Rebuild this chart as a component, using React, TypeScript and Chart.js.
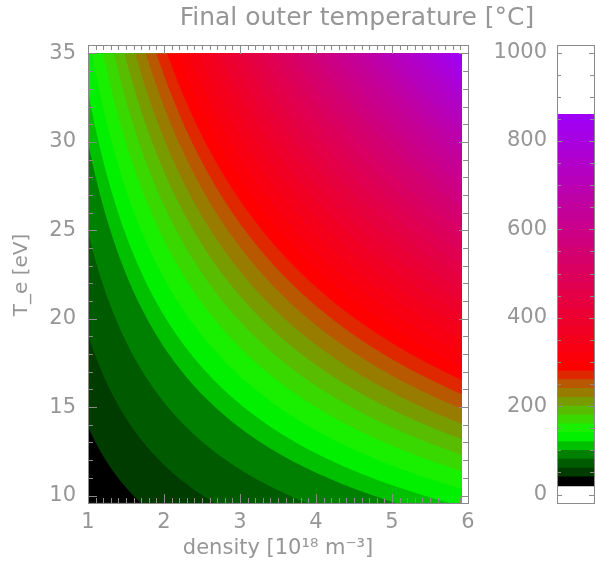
import React, { useEffect, useRef } from "react";
import { Chart, registerables } from "chart.js";

Chart.register(...registerables);

// ---------- text ----------
const TITLE = "Final outer temperature [°C]";
const X_TITLE = "density [10¹⁸ m⁻³]";
const Y_TITLE = "T_e [eV]";

// ---------- axes ----------
const X_TICKS = [1, 2, 3, 4, 5, 6];
const Y_TICKS = [10, 15, 20, 25, 30, 35];
const CB_TICKS = [0, 200, 400, 600, 800, 1000];

// ---------- data domain ----------
const DENSITY_RANGE = [1, 5.92];
const TE_RANGE = [9.58, 35];
// contours follow constant n * Te^1.42
const FLUX_EXPONENT = 1.42;
// final temperature vs flux parameter n*Te^1.42, read along the contour positions
const FLUX_KNOTS = [24, 42, 66, 96, 125, 147, 187, 318, 922];
const TEMP_KNOTS = [22, 40, 60, 80, 100, 125, 160, 280, 850];

// ---------- contour levels (°C) ----------
const LEVELS = [
  20, 40, 60, 80, 100, 120, 140, 160, 180, 200, 220, 240, 260, 280, 300, 320,
  340, 360, 380, 400, 420, 440, 460, 480, 500, 520, 540, 560, 580, 600, 620,
  640, 660, 680, 700, 720, 740, 760, 780, 800, 820, 840, 860,
];
// colour table anchors
const COLOR_LEVELS = [20, 40, 60, 80, 100, 120, 140, 160, 180, 200, 220, 240, 260, 280, 860];
const COLOR_HEX = [
  "#000000", "#003c00", "#005a00", "#008000", "#00c000", "#00f000", "#18f000",
  "#38d800", "#58bc00", "#789c00", "#987c00", "#b85800", "#e02800", "#ff0000",
  "#9c00ff",
];

const FONT = "'DejaVu Sans', sans-serif";
const TEXT_COLOR = "#969696";
const FRAME_COLOR = "#8a8a8a";

function hexToRgb(h: string) {
  return [parseInt(h.slice(1, 3), 16), parseInt(h.slice(3, 5), 16), parseInt(h.slice(5, 7), 16)];
}
function colorFor(level: number) {
  for (let i = 0; i < COLOR_LEVELS.length - 1; i++) {
    if (level <= COLOR_LEVELS[i + 1]) {
      const t = (level - COLOR_LEVELS[i]) / (COLOR_LEVELS[i + 1] - COLOR_LEVELS[i]);
      const a = hexToRgb(COLOR_HEX[i]);
      const b = hexToRgb(COLOR_HEX[i + 1]);
      const c = a.map((v, j) => Math.round(v + (b[j] - v) * t));
      return `rgb(${c[0]},${c[1]},${c[2]})`;
    }
  }
  return COLOR_HEX[COLOR_HEX.length - 1];
}
function fluxForTemp(T: number) {
  for (let i = 0; i < TEMP_KNOTS.length - 1; i++) {
    if (T <= TEMP_KNOTS[i + 1] || i === TEMP_KNOTS.length - 2) {
      const t = (T - TEMP_KNOTS[i]) / (TEMP_KNOTS[i + 1] - TEMP_KNOTS[i]);
      return FLUX_KNOTS[i] + t * (FLUX_KNOTS[i + 1] - FLUX_KNOTS[i]);
    }
  }
  return FLUX_KNOTS[FLUX_KNOTS.length - 1];
}

type TickSpec = { major: number[]; minorStep: number; majorLen: number; minorLen: number };

function drawFrameTicks(chart: any, xSpec: TickSpec | null, ySpec: TickSpec | null) {
  const { ctx, chartArea: a } = chart;
  ctx.save();
  ctx.strokeStyle = FRAME_COLOR;
  ctx.lineWidth = 1;
  ctx.strokeRect(Math.round(a.left) + 0.5, Math.round(a.top) + 0.5, Math.round(a.right - a.left), Math.round(a.bottom - a.top));
  ctx.beginPath();
  if (xSpec) {
    const s = chart.scales.x;
    const lo = s.min, hi = s.max;
    const n = Math.round((hi - lo) / xSpec.minorStep);
    for (let i = 0; i <= n; i++) {
      const v = lo + i * xSpec.minorStep;
      const isMajor = xSpec.major.some((m) => Math.abs(m - v) < 1e-6);
      const len = isMajor ? xSpec.majorLen : xSpec.minorLen;
      const px = Math.round(s.getPixelForValue(v)) + 0.5;
      ctx.moveTo(px, a.bottom);
      ctx.lineTo(px, a.bottom - len);
      ctx.moveTo(px, a.top);
      ctx.lineTo(px, a.top + len);
    }
  }
  if (ySpec) {
    const s = chart.scales.y;
    const start = Math.ceil(s.min / ySpec.minorStep) * ySpec.minorStep;
    for (let v = start; v <= s.max + 1e-9; v += ySpec.minorStep) {
      const isMajor = ySpec.major.some((m) => Math.abs(m - v) < 1e-6);
      const len = isMajor ? ySpec.majorLen : ySpec.minorLen;
      const py = Math.round(s.getPixelForValue(v)) + 0.5;
      ctx.moveTo(a.left, py);
      ctx.lineTo(a.left + len, py);
      ctx.moveTo(a.right, py);
      ctx.lineTo(a.right - len, py);
    }
  }
  ctx.stroke();
  ctx.restore();
}

const contourPlugin = {
  id: "contourFill",
  beforeDatasetsDraw(chart: any) {
    const { ctx } = chart;
    const xs = chart.scales.x;
    const ys = chart.scales.y;
    const left = xs.getPixelForValue(DENSITY_RANGE[0]);
    const right = xs.getPixelForValue(DENSITY_RANGE[1]);
    const top = ys.getPixelForValue(TE_RANGE[1]);
    const bottom = ys.getPixelForValue(TE_RANGE[0]);
    ctx.save();
    ctx.beginPath();
    ctx.rect(left, top, right - left, bottom - top);
    ctx.clip();
    ctx.fillStyle = colorFor(LEVELS[0]);
    ctx.fillRect(left, top, right - left, bottom - top);
    const N = 160;
    for (let k = 1; k < LEVELS.length - 1; k++) {
      const q = fluxForTemp(LEVELS[k]);
      ctx.beginPath();
      for (let i = 0; i <= N; i++) {
        const n = DENSITY_RANGE[0] + ((DENSITY_RANGE[1] - DENSITY_RANGE[0]) * i) / N;
        let te = Math.pow(q / n, 1 / FLUX_EXPONENT);
        te = Math.max(TE_RANGE[0] - 1, Math.min(TE_RANGE[1] + 1, te));
        const px = xs.getPixelForValue(n);
        const py = ys.getPixelForValue(te);
        if (i === 0) ctx.moveTo(px - 1, py);
        ctx.lineTo(px, py);
      }
      ctx.lineTo(right + 1, ys.getPixelForValue(TE_RANGE[1] + 1));
      ctx.lineTo(left - 1, ys.getPixelForValue(TE_RANGE[1] + 1));
      ctx.closePath();
      ctx.fillStyle = colorFor(LEVELS[k]);
      ctx.fill();
    }
    ctx.restore();
  },
  afterDraw(chart: any) {
    drawFrameTicks(
      chart,
      { major: X_TICKS, minorStep: 0.1, majorLen: 9, minorLen: 5 },
      { major: Y_TICKS, minorStep: 1, majorLen: 9, minorLen: 5 }
    );
    const { ctx } = chart;
    ctx.save();
    ctx.fillStyle = TEXT_COLOR;
    ctx.textAlign = "center";
    ctx.textBaseline = "middle";
    ctx.font = `25px ${FONT}`;
    ctx.fillText(TITLE, 357, 18);
    ctx.font = `21px ${FONT}`;
    ctx.fillText(X_TITLE, 278, 549);
    ctx.font = `20px ${FONT}`;
    ctx.translate(22, 275);
    ctx.rotate(-Math.PI / 2);
    ctx.fillText(Y_TITLE, 0, 0);
    ctx.restore();
  },
};

const colorbarPlugin = {
  id: "colorbarFrame",
  afterDraw(chart: any) {
    drawFrameTicks(chart, null, { major: CB_TICKS, minorStep: 50, majorLen: 5, minorLen: 4 });
  },
};

const tickFont = { family: FONT, size: 21 };
const plainLabel = (v: any) => String(v);

export default function App() {
  const mainRef = useRef<HTMLCanvasElement>(null);
  const cbRef = useRef<HTMLCanvasElement>(null);

  useEffect(() => {
    const main = new Chart(mainRef.current!, {
      type: "scatter",
      data: { datasets: [] },
      options: {
        animation: false,
        responsive: false,
        events: [],
        layout: { padding: { left: 0, right: 128, top: 45, bottom: 0 } },
        plugins: { legend: { display: false }, tooltip: { enabled: false } },
        scales: {
          x: {
            type: "linear",
            min: 1,
            max: 6,
            afterBuildTicks: (s: any) => {
              s.ticks = X_TICKS.map((v) => ({ value: v }));
            },
            afterFit: (s: any) => {
              s.height = 68;
            },
            grid: { display: false, drawTicks: false },
            border: { display: false },
            ticks: { font: tickFont, color: TEXT_COLOR, padding: 7, maxRotation: 0, autoSkip: false, callback: plainLabel },
          },
          y: {
            type: "linear",
            min: 9.576,
            max: 35.48,
            afterBuildTicks: (s: any) => {
              s.ticks = Y_TICKS.map((v) => ({ value: v }));
            },
            afterFit: (s: any) => {
              s.width = 88;
            },
            grid: { display: false, drawTicks: false },
            border: { display: false },
            ticks: { font: tickFont, color: TEXT_COLOR, padding: 12, autoSkip: false, callback: plainLabel },
          },
        },
      },
      plugins: [contourPlugin],
    } as any);

    const bandData = LEVELS.slice(0, -1).map((lv, k) => ({
      label: String(lv),
      data: [[lv, LEVELS[k + 1]]],
      backgroundColor: colorFor(lv),
      borderWidth: 0,
      barPercentage: 1,
      categoryPercentage: 1,
      grouped: false,
      inflateAmount: 0.4,
    }));

    const cb = new Chart(cbRef.current!, {
      type: "bar",
      data: { labels: [""], datasets: bandData },
      options: {
        animation: false,
        responsive: false,
        events: [],
        layout: { padding: { left: 0, right: 2, top: 45, bottom: 68 } },
        plugins: { legend: { display: false }, tooltip: { enabled: false } },
        scales: {
          x: { display: false },
          y: {
            type: "linear",
            min: -19,
            max: 1017,
            afterBuildTicks: (s: any) => {
              s.ticks = CB_TICKS.map((v) => ({ value: v }));
            },
            afterFit: (s: any) => {
              s.width = 557;
            },
            grid: { display: false, drawTicks: false },
            border: { display: false },
            ticks: { font: tickFont, color: TEXT_COLOR, padding: 10, autoSkip: false, callback: plainLabel },
          },
        },
      },
      plugins: [colorbarPlugin],
    } as any);

    return () => {
      main.destroy();
      cb.destroy();
    };
  }, []);

  return (
    <div style={{ position: "fixed", left: 0, top: 0, width: 596, height: 571, background: "#fff" }}>
      <canvas ref={mainRef} width={596} height={571} style={{ position: "absolute", left: 0, top: 0 }} />
      <canvas ref={cbRef} width={596} height={571} style={{ position: "absolute", left: 0, top: 0 }} />
    </div>
  );
}
